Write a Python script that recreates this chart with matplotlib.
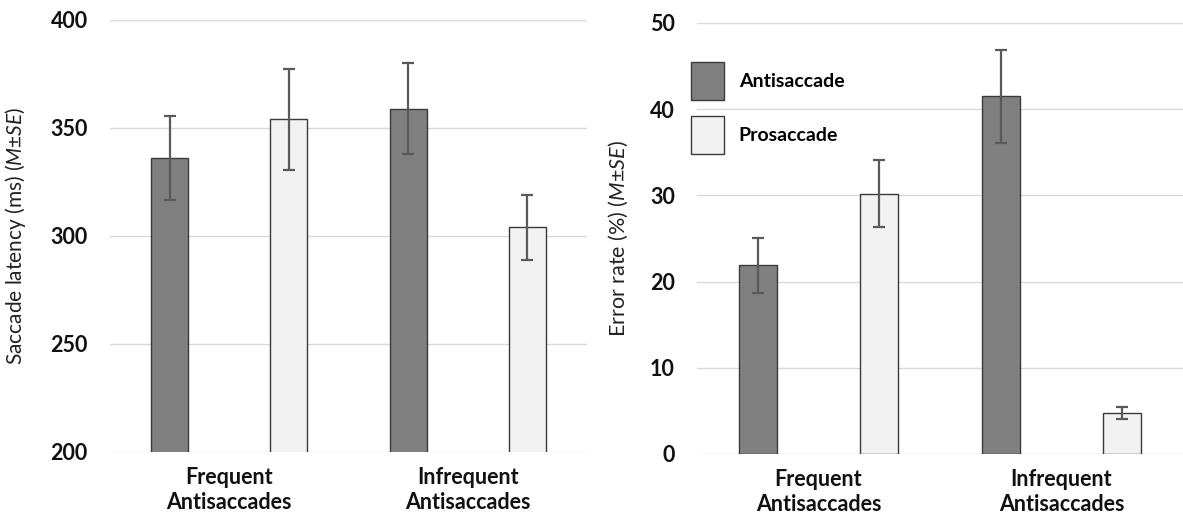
import matplotlib.pyplot as plt
import numpy as np

plt.rcParams['font.family'] = ['Lato', 'DejaVu Sans']
plt.rcParams['mathtext.fontset'] = 'custom'
plt.rcParams['mathtext.rm'] = 'Lato'
plt.rcParams['mathtext.it'] = 'Lato:italic'

# data
categories = ['Frequent\nAntisaccades', 'Infrequent\nAntisaccades']
series = ['Antisaccade', 'Prosaccade']

latency_anti = [336, 359]
latency_anti_se = [19.5, 21]
latency_pro = [354, 304]
latency_pro_se = [23.5, 15]

error_anti = [21.9, 41.5]
error_anti_se = [3.2, 5.4]
error_pro = [30.2, 4.8]
error_pro_se = [3.9, 0.7]

dark = '#808080'
light = '#f2f2f2'
edge = '#3a3a3a'
err_col = '#5a5a5a'


def draw_panel(ax, anti, anti_se, pro, pro_se, ylim, yticks, ylabel, lsize):
    x = np.arange(len(categories))
    w = 0.155
    ax.bar(x - 0.25, anti, w, color=dark, edgecolor=edge, linewidth=1.0,
           zorder=3, label=series[0])
    ax.bar(x + 0.25, pro, w, color=light, edgecolor=edge, linewidth=1.0,
           zorder=3, label=series[1])
    ax.errorbar(x - 0.25, anti, yerr=anti_se, fmt='none', ecolor=err_col,
                elinewidth=1.6, capsize=4.5, capthick=1.6, zorder=4)
    ax.errorbar(x + 0.25, pro, yerr=pro_se, fmt='none', ecolor=err_col,
                elinewidth=1.6, capsize=4.5, capthick=1.6, zorder=4)
    ax.set_xlim(-0.5, 1.5)
    ax.set_ylim(*ylim)
    ax.set_yticks(yticks)
    ax.set_xticks(x)
    ax.set_xticklabels(categories, fontsize=15.5, fontweight='bold',
                       linespacing=1.2)
    for lab in ax.get_yticklabels():
        lab.set_fontsize(15.5)
        lab.set_fontweight('bold')
    ax.tick_params(axis='both', length=0, colors='#111111')
    ax.tick_params(axis='y', pad=16)
    ax.tick_params(axis='x', pad=11)
    ax.grid(axis='y', color='#d9d9d9', linewidth=1.0, zorder=0)
    for s in ax.spines.values():
        s.set_visible(False)
    ax.set_ylabel(ylabel, fontsize=lsize, color='#222222')


fig = plt.figure(figsize=(11.83, 5.16), dpi=100)
ax1 = fig.add_axes([110 / 1183, 64 / 516, 477 / 1183, 432 / 516])
ax2 = fig.add_axes([697 / 1183, 62 / 516, 486 / 1183, 431 / 516])

draw_panel(ax1, latency_anti, latency_anti_se, latency_pro, latency_pro_se,
           (200, 400), [200, 250, 300, 350, 400],
           r'Saccade latency (ms) ($\mathit{M}$±$\mathit{SE}$)', 15)
draw_panel(ax2, error_anti, error_anti_se, error_pro, error_pro_se,
           (0, 50), [0, 10, 20, 30, 40, 50],
           r'Error rate (%) ($\mathit{M}$±$\mathit{SE}$)', 15.5)
ax1.yaxis.set_label_coords(-82 / 477, 0.5)
ax2.yaxis.set_label_coords(-67 / 486, 0.5)

ax2.legend(loc='upper left', bbox_to_anchor=(681 / 1183, 1 - 52 / 516),
           bbox_transform=fig.transFigure, frameon=False, borderpad=0,
           handlelength=1.7, handleheight=2.63, handletextpad=0.77,
           labelspacing=0.82, prop={'size': 14, 'weight': 'bold'})

fig.savefig('out.png', dpi=100)
